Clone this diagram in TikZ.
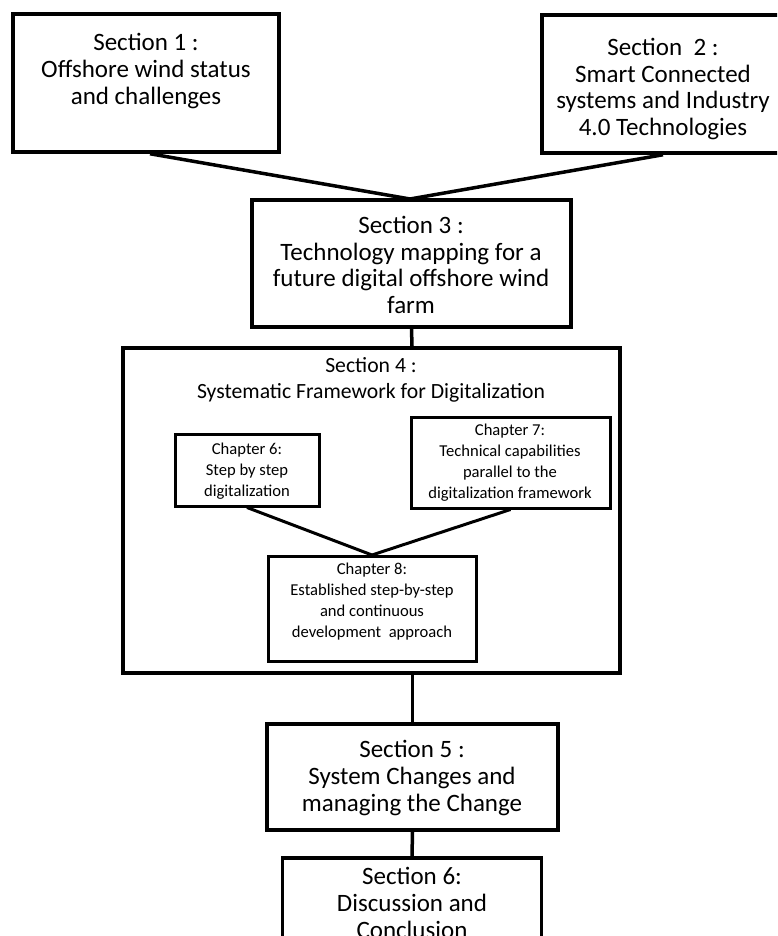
\documentclass[tikz,border=0pt]{standalone}
\usepackage{fontspec}
\setmainfont{Carlito}
\begin{document}
\begin{tikzpicture}[x=1pt,y=-1pt,
  secbox/.style={draw=black,line width=3.5pt,rectangle,inner sep=0pt},
  chapbox/.style={draw=black,line width=3pt,rectangle,inner sep=0pt},
  link/.style={draw=black,line width=3.5pt},
  sectext/.style={align=center,inner sep=0pt,font=\fontsize{25}{26.8}\selectfont},
  titletext/.style={align=center,inner sep=0pt,font=\fontsize{21.7}{26}\selectfont},
  chaptext/.style={align=center,inner sep=0pt,font=\fontsize{16.6}{21}\selectfont}]
\useasboundingbox (0,0) rectangle (777,936);
\clip (0,0) rectangle (777,936);

% section boxes
\node[secbox,minimum width=266pt,minimum height=138pt] (s1) at (146,83) {};
\node[secbox,minimum width=242pt,minimum height=138pt] (s2) at (663,84) {};
\node[secbox,minimum width=319pt,minimum height=127pt] (s3) at (411.5,263.5) {};
\node[secbox,minimum width=497pt,minimum height=325pt] (s4) at (371.5,510.5) {};
\node[secbox,minimum width=291pt,minimum height=106pt] (s5) at (412.5,777) {};
\node[secbox,minimum width=259pt,minimum height=120pt] (s6) at (412,918) {};

% chapter boxes inside section 4
\node[chapbox,minimum width=144pt,minimum height=72pt] (c6) at (247,470) {};
\node[chapbox,minimum width=199pt,minimum height=91pt] (c7) at (510.5,462.5) {};
\node[chapbox,minimum width=208pt,minimum height=105pt] (c8) at (372,608.5) {};

% texts
\node[sectext] (t1) at (146,71) {Section 1 :\\Offshore wind status\\and challenges};
\node[sectext] (t2) at (663,89) {Section\ \ 2 :\\Smart Connected\\systems and Industry\\4.0 Technologies};
\node[sectext] (t3) at (411,265) {Section 3 :\\Technology mapping for a\\future digital offshore wind\\farm};
\node[titletext] (t4) at (371,380) {Section 4 :\\Systematic Framework for Digitalization};
\node[chaptext] (t6) at (247,471) {Chapter 6:\\Step by step\\digitalization};
\node[chaptext] (t7) at (510,463) {Chapter 7:\\Technical capabilities\\parallel to the\\digitalization framework};
\node[chaptext] (t8) at (372,602) {Chapter 8:\\Established step-by-step\\and continuous\\development\ \ approach};
\node[sectext] (t5) at (412,778) {Section 5 :\\System Changes and\\managing the Change};
\node[sectext] (t9) at (412,903) {Section 6:\\Discussion and\\Conclusion};

% connectors
\coordinate (j1) at (410,199);
\draw[link] ([xshift=4pt]s1.south) -- (j1);
\draw[link] (s2.south) -- (j1);
\draw[link] (s3.south) -- ([xshift=0.5pt]s3.south |- s4.north);
\draw[link] (s4.south -| s5.north) -- (s5.north);
\draw[link] (s5.south) -- (s6.north);
\coordinate (j2) at (372,555);
\draw[link,line width=3pt] (c6.south) -- (j2);
\draw[link,line width=3pt] (c7.south) -- (j2);
\end{tikzpicture}
\end{document}
